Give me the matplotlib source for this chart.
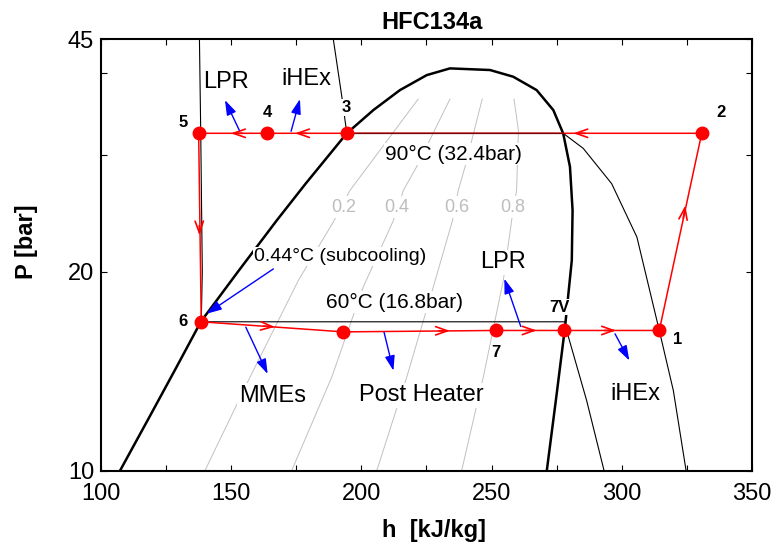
import matplotlib
matplotlib.use('Agg')
import matplotlib.pyplot as plt
from matplotlib.ticker import FixedLocator, NullFormatter, FixedFormatter

plt.rcParams['font.family'] = ['Liberation Sans', 'DejaVu Sans']

# ---------------- data (h in kJ/kg, P in bar) ----------------
dome_h = [107.3, 118.8, 128.8, 138.4, 152.7, 167.5, 178.6, 194.4, 204.6, 214.8,
          225.1, 234.0, 249.4, 258.3, 267.3, 273.7, 277.5, 280.1, 281.1, 280.8, 279.5,
          278.2, 275.0, 271.2]
dome_P = [10.0, 12.1, 14.3, 16.82, 20.03, 23.92, 27.19, 32.4, 35.13, 37.66,
          39.68, 40.62, 40.39, 39.46, 37.66, 35.13, 32.38, 28.83, 24.78, 20.81, 18.53,
          16.49, 13.07, 10.0]

iso90_h = [189.2, 192.4, 194.4, 277.5, 285.2, 296.1, 305.8, 314.4, 319.8, 324.7]
iso90_P = [45.0, 37.0, 32.4, 32.4, 30.74, 27.19, 22.57, 16.3, 13.22, 10.0]
iso60_h = [137.8, 138.3, 138.9, 138.5, 278.3, 278.8, 286.5, 293.2]
iso60_P = [45.0, 32.4, 20.0, 16.8, 16.8, 16.3, 12.77, 10.0]

q_labels = ['0.2', '0.4', '0.6', '0.8']
q02_h = [139.9, 157.2, 175.8, 189.2, 195.6, 221.8]
q02_P = [10.0, 13.85, 19.41, 23.78, 26.55, 36.5]
q04_h = [173.2, 188.6, 200.7, 212.3, 216.1, 221.2, 234.0]
q04_P = [10.0, 13.85, 18.96, 23.92, 26.55, 28.83, 36.5]
q06_h = [205.9, 217.4, 227.6, 235.0, 237.2, 239.8, 246.4]
q06_P = [10.0, 13.85, 18.96, 23.92, 26.55, 28.83, 36.5]
q08_h = [238.5, 246.8, 254.5, 257.7, 259.6, 260.3, 258.6]
q08_P = [10.0, 13.85, 19.41, 23.92, 26.55, 32.75, 36.5]
q_label_h = [193.1, 213.6, 236.8, 258.0]
q_label_P = [25.06, 25.06, 25.06, 25.06]

# cycle path 1-2-3-4-5-6-(mid)-7-7V-1
cycle_h = [314.4, 330.7, 194.3, 163.9, 137.5, 138.5, 193.1, 251.7, 277.8, 314.4]
cycle_P = [16.3, 32.4, 32.4, 32.4, 32.4, 16.8, 16.22, 16.3, 16.3, 16.3]

pt_labels = ['1', '2', '3', '4', '5', '6', '7', '7V']
pt_label_h = [321.3, 338.0, 194.1, 163.9, 131.4, 131.6, 251.6, 276.0]
pt_label_P = [15.78, 34.8, 35.46, 34.8, 33.6, 16.8, 15.08, 17.68]

# red flow-direction arrows (tip, tail)
flow_tip_h = [281.4, 174.5, 149.9, 137.8, 166.8, 234.0, 267.3, 297.8, 324.4]
flow_tip_P = [32.4, 32.4, 32.4, 22.7, 16.5, 16.28, 16.3, 16.3, 25.2]
flow_tail_h = [286.0, 179.0, 154.4, 137.75, 162.5, 229.6, 262.9, 293.4, 323.6]
flow_tail_P = [32.4, 32.4, 32.4, 23.5, 16.55, 16.28, 16.3, 16.3, 24.09]

# blue component arrows
comp_tail_h = [153.1, 173.0, 166.2, 155.6, 208.7, 261.2, 297.4]
comp_tail_P = [32.75, 32.63, 20.2, 16.49, 16.2, 16.53, 16.11]
comp_head_h = [147.6, 176.4, 140.6, 164.0, 212.3, 254.9, 302.9]
comp_head_P = [36.37, 36.5, 17.28, 14.01, 14.17, 19.52, 14.68]

comp_labels = ['LPR', 'iHEx', 'LPR', 'MMEs', 'Post Heater', 'iHEx']
comp_label_h = [148.0, 178.7, 254.2, 165.8, 223.2, 305.1]
comp_label_P = [38.77, 39.1, 20.68, 12.99, 13.0, 13.07]

note_labels = ['90°C (32.4bar)', '60°C (16.8bar)', '0.44°C (subcooling)']
note_h = [235.5, 212.9, 192.0]
note_P = [30.1, 18.0, 21.1]
note_size = [15, 15, 14]

x_ticks = [100, 150, 200, 250, 300, 350]
x_minor = [125, 175, 225, 275, 325]
y_ticks = [10, 20, 45]
y_minor = [30, 40]

# ---------------- figure ----------------
fig = plt.figure(figsize=(7.77, 5.47), dpi=100)
ax = fig.add_axes([0.130, 0.1395, 0.8378, 0.7892])
ax.set_yscale('log')
ax.set_xlim(100, 350)
ax.set_ylim(10, 45)

gray = '#c0c0c0'
for qh, qp in [(q02_h, q02_P), (q04_h, q04_P), (q06_h, q06_P), (q08_h, q08_P)]:
    ax.plot(qh, qp, color=gray, lw=0.7, zorder=1)
for lab, h, p in zip(q_labels, q_label_h, q_label_P):
    ax.text(h, p, lab, color='#bdbdbd', fontsize=13, ha='center', va='center', zorder=2.5,
            bbox=dict(fc='white', ec='none', pad=2))

ax.plot(dome_h, dome_P, color='black', lw=1.8, zorder=2, solid_joinstyle='round')
ax.plot(iso90_h, iso90_P, color='black', lw=0.8, zorder=2)
ax.plot(iso60_h, iso60_P, color='black', lw=0.8, zorder=2)

ax.plot(cycle_h, cycle_P, color='red', lw=1.1, zorder=3)
# darker overlap of condensing isotherm with the cycle line
ax.plot(iso90_h[2:4], iso90_P[2:4], color='black', lw=0.9, alpha=0.5, zorder=3.2)
ax.plot(cycle_h[:-1], cycle_P[:-1], 'o', color='red', ms=9, mec='red', zorder=5)

for th, tp, sh, sp in zip(flow_tip_h, flow_tip_P, flow_tail_h, flow_tail_P):
    ax.annotate('', xy=(th, tp), xytext=(sh, sp),
                arrowprops=dict(arrowstyle='->,head_length=0.85,head_width=0.3', color='red',
                                lw=1.2, shrinkA=0, shrinkB=0, mutation_scale=10), zorder=4)

for th, tp, hh, hp in zip(comp_tail_h, comp_tail_P, comp_head_h, comp_head_P):
    ax.annotate('', xy=(hh, hp), xytext=(th, tp),
                arrowprops=dict(arrowstyle='-|>,head_length=0.9,head_width=0.3', color='blue',
                                lw=1.0, shrinkA=0, shrinkB=0, mutation_scale=10), zorder=4)

for lab, h, p in zip(comp_labels, comp_label_h, comp_label_P):
    ax.text(h, p, lab, fontsize=17, ha='center', va='center', zorder=3.5,
            bbox=dict(fc='white', ec='none', pad=1))
for lab, h, p, s in zip(note_labels, note_h, note_P, note_size):
    ax.text(h, p, lab, fontsize=s, ha='center', va='center', zorder=2.8,
            bbox=dict(fc='white', ec='none', pad=1))
for lab, h, p in zip(pt_labels, pt_label_h, pt_label_P):
    ax.text(h, p, lab, fontsize=12, fontweight='bold', ha='center', va='center', zorder=3.5,
            bbox=dict(fc='white', ec='none', pad=0.5))

ax.xaxis.set_major_locator(FixedLocator(x_ticks))
ax.xaxis.set_minor_locator(FixedLocator(x_minor))
ax.yaxis.set_major_locator(FixedLocator(y_ticks))
ax.yaxis.set_major_formatter(FixedFormatter([str(v) for v in y_ticks]))
ax.yaxis.set_minor_locator(FixedLocator(y_minor))
ax.yaxis.set_minor_formatter(NullFormatter())
ax.tick_params(which='both', direction='in', top=True, right=True, length=4.5, width=0.8)
ax.tick_params(axis='x', which='major', labelsize=17, pad=9)
ax.tick_params(axis='y', which='major', labelsize=17, pad=5)
for s in ax.spines.values():
    s.set_linewidth(1.5)

ax.set_title('HFC134a', fontsize=17, fontweight='bold', pad=7)
ax.title.set_x(0.508)
ax.set_xlabel('h  [kJ/kg]', fontsize=17, fontweight='bold')
ax.xaxis.set_label_coords(0.512, -0.112)
ax.set_ylabel('P [bar]', fontsize=17, fontweight='bold')
ax.yaxis.set_label_coords(-0.097, 0.531)

fig.savefig('out.png', dpi=100)
